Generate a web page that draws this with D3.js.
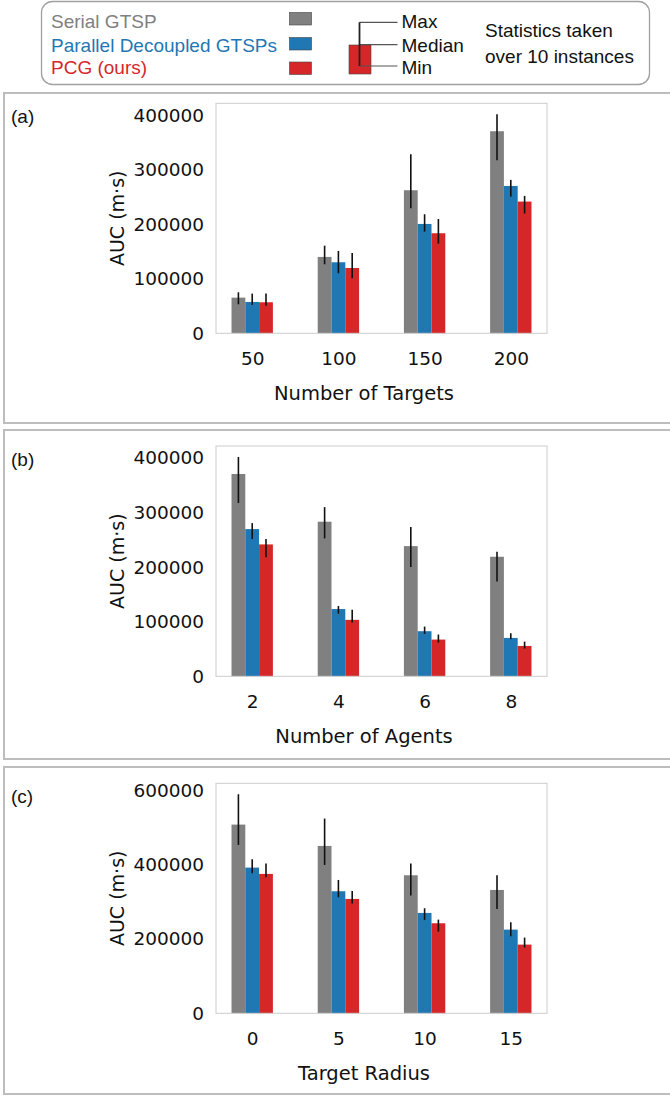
<!DOCTYPE html>
<html>
<head>
<meta charset="utf-8">
<script src="https://cdn.jsdelivr.net/npm/d3@7"></script>
<style>
  html, body { margin: 0; padding: 0; background: #fff; }
  svg { display: block; }
</style>
</head>
<body>
<svg id="fig" width="670" height="1096"></svg>
<script>
// Series definitions
const seriesNames = ["Serial GTSP", "Parallel Decoupled GTSPs", "PCG (ours)"];
const seriesColors = ["#808080", "#1f77b4", "#d62728"];

// (a) Number of Targets
const targetCounts = ["50", "100", "150", "200"];
const serialMedA = [65500, 140300, 262800, 371200];
const serialMaxA = [75300, 161000, 329000, 402400];
const serialMinA = [53300, 126800, 229700, 317900];
const parMedA = [57600, 130500, 200900, 270700];
const parMaxA = [72900, 151300, 218700, 281800];
const parMinA = [52100, 110300, 186800, 251100];
const pcgMedA = [57000, 120000, 183800, 242000];
const pcgMaxA = [72900, 147600, 210000, 252400];
const pcgMinA = [50800, 101000, 164800, 219900];

// (b) Number of Agents
const agentCounts = ["2", "4", "6", "8"];
const serialMedB = [370600, 283200, 238500, 219000];
const serialMaxB = [401800, 310000, 273400, 228100];
const serialMinB = [317400, 252600, 200000, 173700];
const parMedB = [269700, 123200, 82600, 70300];
const parMaxB = [280700, 128700, 91100, 78900];
const parMinB = [251400, 114700, 77700, 67900];
const pcgMedB = [241600, 103400, 67300, 55600];
const pcgMaxB = [251400, 121700, 76500, 63600];
const pcgMinB = [218300, 98500, 61800, 50800];

// (c) Target Radius
const targetRadii = ["0", "5", "10", "15"];
const serialMedC = [507600, 450200, 371300, 331800];
const serialMaxC = [589200, 523800, 402700, 371300];
const serialMinC = [452900, 399100, 316600, 280700];
const parMedC = [391900, 328300, 270000, 225100];
const parMaxC = [414300, 358700, 282500, 244800];
const parMinC = [376700, 312100, 251100, 207200];
const pcgMedC = [374900, 307600, 242200, 184800];
const pcgMaxC = [402700, 329100, 252000, 203600];
const pcgMinC = [365900, 295100, 219700, 176700];

const ticksAB = [0, 100000, 200000, 300000, 400000];
const ticksC = [0, 200000, 400000, 600000];

const panels = [
  { tag: "(a)", xLabel: "Number of Targets", cats: targetCounts, ticks: ticksAB,
    med: [serialMedA, parMedA, pcgMedA], max: [serialMaxA, parMaxA, pcgMaxA], min: [serialMinA, parMinA, pcgMinA],
    frameTop: 93, plotTop: 103.3, plotBottom: 333.3, frameBottom: 423 },
  { tag: "(b)", xLabel: "Number of Agents", cats: agentCounts, ticks: ticksAB,
    med: [serialMedB, parMedB, pcgMedB], max: [serialMaxB, parMaxB, pcgMaxB], min: [serialMinB, parMinB, pcgMinB],
    frameTop: 430, plotTop: 446, plotBottom: 676.3, frameBottom: 759 },
  { tag: "(c)", xLabel: "Target Radius", cats: targetRadii, ticks: ticksC,
    med: [serialMedC, parMedC, pcgMedC], max: [serialMaxC, parMaxC, pcgMaxC], min: [serialMinC, parMinC, pcgMinC],
    frameTop: 767, plotTop: 783.3, plotBottom: 1013.3, frameBottom: 1094 }
];

const svg = d3.select("#fig");
const plotLeft = 216, plotRight = 547;
const xLabelCenter = 364;
const axisFont = "'DejaVu Sans', sans-serif";
const legendFont = "'Liberation Sans', Arial, sans-serif";
const legendSize = 19;
const barW = 0.16; // bar width in category units

panels.forEach(p => {
  const g = svg.append("g");

  // panel frame (open on the right edge)
  g.append("path")
    .attr("d", `M700,${p.frameTop} H4 V${p.frameBottom} H700`)
    .attr("fill", "none").attr("stroke", "#bdbdbd").attr("stroke-width", 2);

  g.append("text").attr("x", 11).attr("y", p.plotTop + 20)
    .attr("font-family", legendFont).attr("font-size", legendSize).attr("fill", "#111")
    .text(p.tag);

  const x = d3.scaleLinear().domain([-0.42, p.cats.length - 1 + 0.42]).range([plotLeft, plotRight]);
  const yMax = 1.05 * d3.max(p.max.flat());
  const y = d3.scaleLinear().domain([0, yMax]).range([p.plotBottom, p.plotTop]);

  // bars and min–max whiskers
  p.med.forEach((vals, s) => {
    const off = (s - 1) * barW;
    g.append("g").selectAll("rect").data(vals).join("rect")
      .attr("x", (d, i) => x(i + off - barW / 2))
      .attr("width", x(barW) - x(0))
      .attr("y", d => y(d))
      .attr("height", d => y(0) - y(d))
      .attr("fill", seriesColors[s]);
    g.append("g").selectAll("line").data(vals).join("line")
      .attr("x1", (d, i) => x(i + off)).attr("x2", (d, i) => x(i + off))
      .attr("y1", (d, i) => y(p.min[s][i])).attr("y2", (d, i) => y(p.max[s][i]))
      .attr("stroke", "#111").attr("stroke-width", 1.6);
  });

  // plot frame
  g.append("rect").attr("x", plotLeft).attr("y", p.plotTop)
    .attr("width", plotRight - plotLeft).attr("height", p.plotBottom - p.plotTop)
    .attr("fill", "none").attr("stroke", "#cccccc").attr("stroke-width", 1);

  // y axis
  const yAxis = d3.axisLeft(y).tickValues(p.ticks).tickSize(0).tickPadding(12).tickFormat(d3.format("d"));
  const ya = g.append("g").attr("transform", `translate(${plotLeft},0)`).call(yAxis);
  ya.select(".domain").remove();
  ya.selectAll("text").attr("font-family", axisFont).attr("font-size", 18.5).attr("fill", "#111");

  // x axis
  const xAxis = d3.axisBottom(x).tickValues(d3.range(p.cats.length)).tickSize(0).tickPadding(19)
    .tickFormat(i => p.cats[i]);
  const xa = g.append("g").attr("transform", `translate(0,${p.plotBottom})`).call(xAxis);
  xa.select(".domain").remove();
  xa.selectAll("text").attr("font-family", axisFont).attr("font-size", 18.5).attr("fill", "#111");

  g.append("text").attr("x", xLabelCenter).attr("y", p.plotBottom + 67)
    .attr("text-anchor", "middle").attr("font-family", axisFont).attr("font-size", 19.5).attr("fill", "#111")
    .text(p.xLabel);

  g.append("text")
    .attr("transform", `translate(124,${(p.plotTop + p.plotBottom) / 2}) rotate(-90)`)
    .attr("text-anchor", "middle").attr("font-family", axisFont).attr("font-size", 19).attr("fill", "#111")
    .text("AUC (m·s)");
});

// legend
const lg = svg.append("g");
lg.append("rect").attr("x", 41.5).attr("y", 1.5).attr("width", 608).attr("height", 83).attr("rx", 11)
  .attr("fill", "#fff").attr("stroke", "#a0a0a0").attr("stroke-width", 1.3);

const legendRows = [28.3, 51.7, 74];
const swatchTops = [12.5, 37.5, 62];
seriesNames.forEach((name, i) => {
  lg.append("text").attr("x", 51).attr("y", legendRows[i])
    .attr("font-family", legendFont).attr("font-size", legendSize).attr("fill", seriesColors[i]).text(name);
  lg.append("rect").attr("x", 289.5).attr("y", swatchTops[i]).attr("width", 22).attr("height", 12.5)
    .attr("fill", seriesColors[i]).attr("stroke", "#444").attr("stroke-width", 0.6);
});

// bar-with-whisker key
lg.append("rect").attr("x", 349).attr("y", 45).attr("width", 22).attr("height", 29)
  .attr("fill", seriesColors[2]).attr("stroke", "#444").attr("stroke-width", 0.6);
const keyLines = [
  { y: 22.3, label: "Max", base: 28.3 },
  { y: 44.7, label: "Median", base: 51.7 },
  { y: 66, label: "Min", base: 74 }
];
keyLines.forEach(k => {
  lg.append("line").attr("x1", 359.5).attr("x2", 397.5).attr("y1", k.y).attr("y2", k.y)
    .attr("stroke", "#555").attr("stroke-width", 1.2);
  lg.append("text").attr("x", 401.5).attr("y", k.base)
    .attr("font-family", legendFont).attr("font-size", legendSize).attr("fill", "#111").text(k.label);
});
lg.append("line").attr("x1", 359.5).attr("x2", 359.5).attr("y1", 22.3).attr("y2", 66)
  .attr("stroke", "#222").attr("stroke-width", 1.8);

lg.append("text").attr("x", 485).attr("y", 37)
  .attr("font-family", legendFont).attr("font-size", legendSize).attr("fill", "#111").text("Statistics taken");
lg.append("text").attr("x", 485).attr("y", 63)
  .attr("font-family", legendFont).attr("font-size", legendSize).attr("fill", "#111").text("over 10 instances");
</script>
</body>
</html>
